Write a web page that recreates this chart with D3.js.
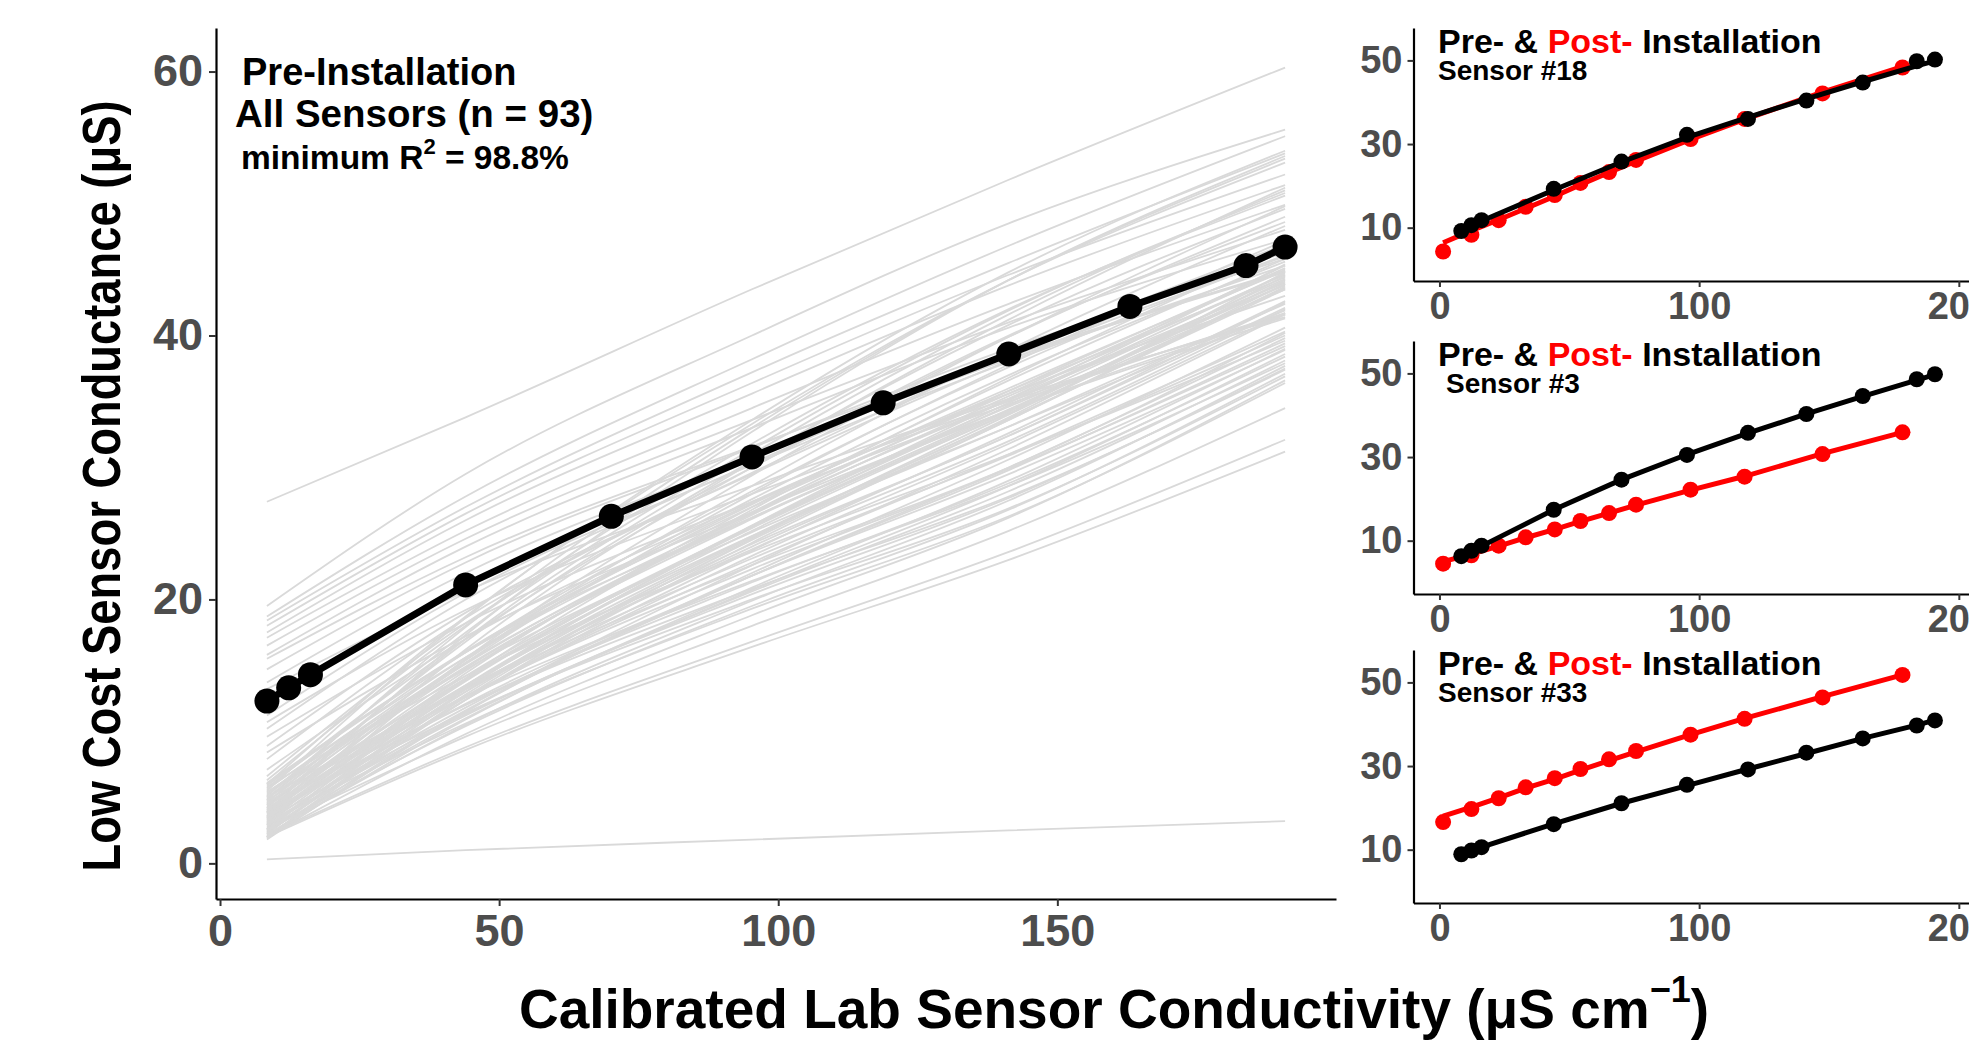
<!DOCTYPE html>
<html>
<head>
<meta charset="utf-8">
<script src="https://cdn.jsdelivr.net/npm/d3@7"></script>
<style>
  body { margin: 0; background: #fff; }
  svg { display: block; font-family: "Liberation Sans", Arial, sans-serif; font-weight: bold; }
</style>
</head>
<body>
<div id="chart"></div>
<script>
// lab conductivity of each calibration step (pre-installation)
const preX = [8.4, 12.3, 16.2, 44.0, 70.1, 95.3, 118.8, 141.3, 163.0, 183.8, 190.8];
// lab conductivity of each calibration step (post-installation)
const postX = [1.4, 12.3, 22.8, 33.2, 44.4, 54.3, 65.3, 75.7, 96.7, 117.5, 147.5, 178.3];

// mean pre-installation curve (black)
const meanY = [12.3, 13.3, 14.3, 21.1, 26.3, 30.8, 34.9, 38.6, 42.2, 45.3, 46.7];

// every sensor, read at these lab values
const grayX = [8.4, 44.0, 95.3, 141.3, 190.8];
const sensorLines = [
  [27.4, 33.8, 43.5, 51.8, 60.3], [0.3, 1.0, 1.8, 2.5, 3.2],
  [19.5, 29.5, 40.0, 48.5, 55.6], [18.7, 27.8, 38.2, 46.8, 55.1],
  [18.4, 27.0, 37.2, 45.5, 53.8], [18.0, 26.5, 36.4, 44.6, 52.2],
  [17.5, 26.0, 35.6, 43.8, 51.4], [17.1, 25.2, 34.5, 42.4, 49.9],
  [16.5, 24.6, 33.6, 41.0, 48.0], [15.8, 24.0, 33.0, 40.6, 47.3],
  [15.5, 23.2, 31.6, 38.4, 44.9], [14.7, 22.8, 31.5, 39.0, 45.8],
  [13.7, 22.0, 30.8, 38.2, 44.8], [13.2, 20.6, 28.6, 35.2, 41.4],
  [11.2, 20.5, 30.2, 38.0, 45.3], [10.7, 19.2, 28.0, 35.0, 41.6],
  [10.2, 20.0, 30.3, 38.7, 46.3], [9.6, 18.2, 27.4, 34.8, 41.7],
  [8.9, 19.0, 29.5, 38.1, 46.0], [8.4, 17.2, 26.6, 34.3, 41.3],
  [7.9, 18.6, 29.6, 38.6, 46.9], [7.1, 17.0, 27.4, 35.6, 43.0],
  [6.6, 18.2, 30.0, 39.9, 49.0], [6.1, 16.0, 26.2, 34.3, 41.6],
  [5.5, 18.6, 33.6, 44.8, 54.0], [4.8, 17.9, 33.0, 44.2, 53.4],
  [6.0, 18.7, 33.3, 44.2, 53.1], [3.9, 17.3, 32.7, 44.2, 53.6],
  [4.2, 17.0, 31.0, 41.6, 51.0], [5.1, 17.5, 31.4, 41.9, 50.8],
  [3.4, 16.2, 30.4, 41.2, 51.2], [6.3, 18.0, 31.8, 42.0, 50.6],
  [4.6, 16.8, 30.5, 40.8, 49.6], [2.9, 15.5, 29.4, 39.9, 49.8],
  [5.7, 17.0, 30.0, 40.0, 48.6], [3.6, 15.4, 28.6, 38.9, 48.3],
  [4.0, 15.2, 28.0, 37.8, 47.2], [2.5, 14.0, 26.8, 36.8, 46.6],
  [5.3, 16.0, 28.2, 37.6, 46.1], [3.1, 14.4, 27.0, 36.6, 45.8],
  [4.4, 15.4, 27.6, 37.0, 45.6], [2.2, 13.2, 25.6, 35.2, 45.3],
  [3.8, 14.6, 26.6, 35.8, 45.1], [5.0, 15.6, 27.2, 36.0, 44.9],
  [2.7, 13.4, 25.5, 34.9, 44.7], [4.3, 14.8, 26.4, 35.4, 44.6],
  [6.0, 16.1, 27.3, 35.8, 44.4], [3.3, 13.8, 25.6, 34.7, 44.3],
  [2.0, 12.6, 24.6, 34.0, 44.2], [4.9, 15.1, 26.5, 35.2, 44.0],
  [3.5, 13.9, 25.5, 34.4, 43.9], [5.6, 15.6, 26.6, 35.1, 43.8],
  [2.4, 12.8, 24.5, 33.6, 43.7], [4.1, 14.2, 25.5, 34.1, 43.6],
  [3.0, 13.3, 24.8, 33.7, 43.5], [5.2, 15.2, 26.2, 34.6, 43.5],
  [2.6, 13.0, 24.7, 33.8, 44.8], [3.7, 14.0, 25.4, 34.3, 44.1],
  [4.7, 14.9, 26.1, 34.9, 45.4], [1.9, 12.4, 24.3, 33.6, 43.9],
  [5.9, 16.0, 27.0, 35.6, 45.0], [3.2, 13.5, 25.2, 34.2, 44.5],
  [2.3, 12.4, 23.7, 32.6, 42.6], [4.5, 14.0, 24.8, 33.1, 42.4],
  [3.4, 13.0, 24.0, 32.4, 42.1], [5.4, 14.7, 25.1, 33.1, 41.9],
  [2.8, 12.4, 23.3, 31.8, 41.7], [4.0, 13.5, 24.2, 32.4, 42.5],
  [1.8, 11.5, 22.6, 31.4, 41.6], [3.9, 13.2, 23.8, 32.0, 42.0],
  [2.1, 11.5, 22.0, 30.6, 40.6], [3.6, 12.6, 22.8, 31.0, 40.3],
  [4.6, 13.3, 23.1, 30.9, 40.0], [2.6, 11.6, 21.8, 30.0, 39.8],
  [5.8, 14.2, 23.6, 31.0, 39.6], [3.0, 11.8, 21.8, 29.8, 39.4],
  [4.2, 12.7, 22.3, 29.9, 39.2], [2.0, 10.9, 20.9, 29.0, 39.0],
  [3.5, 12.1, 21.8, 29.5, 38.9], [5.0, 13.2, 22.6, 30.0, 40.2],
  [2.4, 11.0, 20.7, 28.6, 38.6], [3.8, 12.0, 21.3, 28.8, 38.4],
  [2.9, 11.2, 20.6, 28.2, 38.1], [4.8, 12.6, 21.4, 28.6, 37.9],
  [2.2, 10.5, 19.9, 27.5, 37.7], [3.3, 11.3, 20.4, 27.7, 37.5],
  [4.4, 12.0, 20.8, 27.8, 37.4], [2.5, 10.4, 19.5, 26.8, 37.1],
  [3.9, 11.4, 20.0, 26.9, 36.9], [2.0, 9.8, 18.8, 26.2, 36.6],
  [3.1, 10.6, 19.3, 26.3, 36.4], [2.6, 9.6, 18.0, 25.2, 34.5],
  [2.1, 8.8, 16.8, 23.6, 32.1], [2.0, 8.6, 16.4, 23.0, 31.2]
];

// single sensors: points and fitted line, pre (black) and post (red)
const s18Pre = [9.2, 10.6, 11.8, 19.3, 25.8, 32.2, 36.0, 40.4, 44.7, 49.8, 50.2];
const s18PreFit = [9.6, 10.6, 11.6, 19.0, 25.7, 31.6, 36.4, 40.8, 44.9, 48.7, 49.9];
const s18Post = [4.3, 8.3, 11.8, 15.0, 17.8, 20.7, 23.3, 26.2, 31.2, 36.0, 42.1, 48.3];
const s18PostFit = [6.4, 9.3, 11.9, 14.6, 17.5, 20.3, 23.2, 25.9, 31.1, 35.9, 42.4, 48.5];

const s3Pre = [6.3, 7.6, 8.8, 17.4, 24.6, 30.5, 35.8, 40.3, 44.6, 48.6, 49.8];
const s3PreFit = [6.1, 7.4, 8.7, 17.4, 24.6, 30.6, 35.7, 40.3, 44.5, 48.4, 49.7];
const s3Post = [4.5, 6.5, 8.8, 10.8, 12.7, 14.7, 16.6, 18.6, 22.2, 25.3, 30.7, 35.9];
const s3PostFit = [5.0, 6.8, 8.7, 10.7, 12.7, 14.6, 16.6, 18.5, 22.1, 25.4, 30.8, 35.9];

const s33Pre = [8.9, 9.8, 10.6, 16.1, 21.1, 25.5, 29.2, 33.2, 36.6, 39.7, 40.9];
const s33PreFit = [9.0, 9.8, 10.6, 16.2, 21.1, 25.3, 29.3, 33.0, 36.6, 39.8, 41.0];
const s33Post = [16.6, 19.7, 22.3, 24.9, 27.1, 29.3, 31.6, 33.6, 37.5, 41.3, 46.4, 51.8];
const s33PostFit = [18.0, 20.2, 22.4, 24.7, 26.9, 29.0, 31.3, 33.4, 37.5, 41.4, 46.6, 51.8];

const mainXTicks = [0, 50, 100, 150];
const mainYTicks = [0, 20, 40, 60];
const sideXTicks = [0, 100, 200];
const sideYTicks = [10, 30, 50];

const panels = [
  { label: "Sensor #18", pre: s18Pre, preFit: s18PreFit, post: s18Post, postFit: s18PostFit },
  { label: "Sensor #3", pre: s3Pre, preFit: s3PreFit, post: s3Post, postFit: s3PostFit },
  { label: "Sensor #33", pre: s33Pre, preFit: s33PreFit, post: s33Post, postFit: s33PostFit }
];

const W = 1969, H = 1043;
const svg = d3.select("#chart").append("svg").attr("width", W).attr("height", H);

// ggplot style 5% expansion
function expand(ext, k = 0.05) {
  const d = (ext[1] - ext[0]) * k;
  return [ext[0] - d, ext[1] + d];
}

function styleAxis(g, fontSize) {
  g.select(".domain").attr("stroke", "#000").attr("stroke-width", 2.2);
  g.selectAll(".tick line").attr("stroke", "#333").attr("stroke-width", 2);
  g.selectAll(".tick text")
    .attr("fill", "#4d4d4d")
    .attr("font-size", fontSize)
    .attr("font-weight", "bold")
    .attr("font-family", "'Liberation Sans', Arial, sans-serif");
}

// ---------- main panel ----------
const M = { left: 216, right: 1336, top: 28, bottom: 899 };
const allY = sensorLines.flat().concat(meanY);
const x = d3.scaleLinear().domain(expand(d3.extent(preX))).range([M.left, M.right]);
const y = d3.scaleLinear().domain(expand(d3.extent(allY))).range([M.bottom, M.top]);

const main = svg.append("g");

const grayLine = d3.line()
  .x((d, i) => x(grayX[i]))
  .y(d => y(d))
  .curve(d3.curveMonotoneX);
main.append("g")
  .selectAll("path")
  .data(sensorLines)
  .join("path")
  .attr("d", grayLine)
  .attr("fill", "none")
  .attr("stroke", "#d9d9d9")
  .attr("stroke-width", 1.8);

const meanLine = d3.line().x((d, i) => x(preX[i])).y(d => y(d));
main.append("path")
  .datum(meanY)
  .attr("d", meanLine)
  .attr("fill", "none")
  .attr("stroke", "#000")
  .attr("stroke-width", 7);

main.append("g")
  .selectAll("circle")
  .data(meanY)
  .join("circle")
  .attr("cx", (d, i) => x(preX[i]))
  .attr("cy", d => y(d))
  .attr("r", 12.5)
  .attr("fill", "#000");

main.append("g")
  .attr("transform", `translate(0,${M.bottom})`)
  .call(d3.axisBottom(x).tickValues(mainXTicks).tickSize(7).tickSizeOuter(0).tickPadding(8))
  .call(g => styleAxis(g, 45));

main.append("g")
  .attr("transform", `translate(${M.left},0)`)
  .call(d3.axisLeft(y).tickValues(mainYTicks).tickSize(7).tickSizeOuter(0).tickPadding(6))
  .call(g => styleAxis(g, 45));

// annotations
main.append("text").attr("x", 242).attr("y", 85).attr("font-size", 38).text("Pre-Installation");
main.append("text").attr("x", 235).attr("y", 127).attr("font-size", 38.5).text("All Sensors (n = 93)");
const r2 = main.append("text").attr("x", 241).attr("y", 169).attr("font-size", 33.5);
r2.append("tspan").text("minimum R");
r2.append("tspan").attr("font-size", 22).attr("dy", -15).text("2");
r2.append("tspan").attr("dy", 15).text(" = 98.8%");

// axis titles (glyphs a bit narrower than Arial in the original)
svg.append("text")
  .attr("transform", "translate(120,486) rotate(-90) scale(0.84,1)")
  .attr("text-anchor", "middle")
  .attr("font-size", 54)
  .attr("fill", "#000")
  .text("Low Cost Sensor Conductance (μS)");

const xt = svg.append("text")
  .attr("x", 1114).attr("y", 1028)
  .attr("text-anchor", "middle")
  .attr("font-size", 55)
  .attr("fill", "#000");
xt.append("tspan").text("Calibrated Lab Sensor Conductivity (μS cm");
xt.append("tspan").attr("font-size", 36).attr("dy", -26).text("−1");
xt.append("tspan").attr("dy", 26).text(")");

// ---------- side panels ----------
const sideTops = [28, 341, 650];
const sideH = 253;
const sx = d3.scaleLinear().domain([-10, 210]).range([1413.5, 1984.8]);

panels.forEach((p, k) => {
  const top = sideTops[k];
  const sy = d3.scaleLinear().domain([-2.75, 57.75]).range([top + sideH, top]);
  const g = svg.append("g");

  const series = [
    { xs: postX, pts: p.post, fit: p.postFit, color: "#ff0000" },
    { xs: preX, pts: p.pre, fit: p.preFit, color: "#000" }
  ];
  series.forEach(s => {
    g.append("g")
      .selectAll("circle")
      .data(s.pts)
      .join("circle")
      .attr("cx", (d, i) => sx(s.xs[i]))
      .attr("cy", d => sy(d))
      .attr("r", 8)
      .attr("fill", s.color);
    g.append("path")
      .datum(s.fit)
      .attr("d", d3.line().x((d, i) => sx(s.xs[i])).y(d => sy(d)))
      .attr("fill", "none")
      .attr("stroke", s.color)
      .attr("stroke-width", 5);
  });

  g.append("g")
    .attr("transform", `translate(0,${top + sideH})`)
    .call(d3.axisBottom(sx).tickValues(sideXTicks).tickSize(6).tickSizeOuter(0).tickPadding(5))
    .call(a => styleAxis(a, 38));
  g.append("g")
    .attr("transform", `translate(${sx.range()[0]},0)`)
    .call(d3.axisLeft(sy).tickValues(sideYTicks).tickSize(6).tickSizeOuter(0).tickPadding(5))
    .call(a => styleAxis(a, 38));

  // title pieces as separate texts, laid out one after the other
  let tx = 1438;
  [["Pre- &", "#000"], ["Post-", "#ff0000"], ["Installation", "#000"]].forEach(([word, color]) => {
    const t = g.append("text")
      .attr("x", tx)
      .attr("y", top + 25)
      .attr("font-size", 34)
      .attr("fill", color)
      .text(word);
    tx += t.node().getComputedTextLength() + 9.5;
  });

  g.append("text")
    .attr("x", k === 1 ? 1446 : 1438)
    .attr("y", top + 52)
    .attr("font-size", 28)
    .text(p.label);
});
</script>
</body>
</html>
